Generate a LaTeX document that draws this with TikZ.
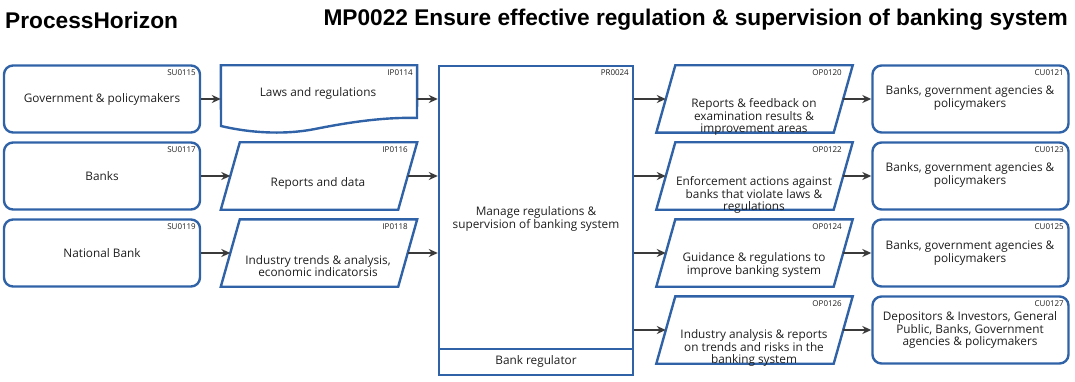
\documentclass[tikz,border=0pt]{standalone}
\usepackage{fontspec}
\usetikzlibrary{arrows.meta,calc}
\newfontfamily\bodyf{Open Sans}
\newfontfamily\titlef{Liberation Sans}
\definecolor{bcol}{HTML}{2F62A6}
\definecolor{acol}{HTML}{3A3A3A}
\definecolor{tcol}{HTML}{1E1E1E}
\newcommand\plgram[1]{%
  \draw[bline] (#1.south west) -- ($(#1.north west)+(19,0)$) -- (#1.north east) -- ($(#1.south east)+(-19,0)$) -- cycle;
  \coordinate (#1-l) at ($(#1.west)+(9.5,0)$);
  \coordinate (#1-r) at ($(#1.east)+(-9.5,0)$);}
\begin{document}
\begin{tikzpicture}[x=1pt,y=-1pt,
  frame/.style={rectangle, minimum width=196pt, minimum height=67pt, inner sep=0pt},
  sbox/.style={frame, draw=bcol, line width=2.4pt, rounded corners=9pt},
  bline/.style={draw=bcol, line width=2.4pt, line join=miter},
  arr/.style={draw=acol, line width=1.7pt, -{Stealth[length=9pt,width=8pt]}},
  txt/.style={font=\bodyf\fontsize{11.8}{12.6}\selectfont, align=center, text=tcol, inner sep=0pt},
  idl/.style={font=\bodyf\fontsize{8}{9}\selectfont, text=tcol, inner sep=0pt, anchor=east},
  ttl/.style={font=\titlef\bfseries\fontsize{22.7}{26}\selectfont, text=black, inner sep=0pt}
]
\useasboundingbox (0,0) rectangle (1075,382);

% titles
\node[ttl, anchor=west] (ph) at (5,20) {ProcessHorizon};
\node[ttl, anchor=east] (mp) at (1068,20) {MP0022 Ensure effective regulation \& supervision of banking system};

% suppliers
\node[sbox] (su115) at (102,99) {};
\node[sbox] (su117) at (102,176) {};
\node[sbox] (su119) at (102,253) {};

% inputs
\node[frame] (ip114) at (319,99) {};
\draw[bline] (ip114.north west) -- (ip114.north east) -- (417,118)
  .. controls (385,117) and (350,122) .. (315,129)
  .. controls (285,135) and (250,133) .. (221,126) -- cycle;
\node[frame] (ip116) at (319,176) {};
\plgram{ip116}
\node[frame] (ip118) at (319,253) {};
\plgram{ip118}

% process
\node[rectangle, draw=bcol, line width=2.4pt, minimum width=194pt, minimum height=309pt, inner sep=0pt] (pr) at (536,220.5) {};
\draw[bline] ($(pr.south west)+(0,-27)$) -- ($(pr.south east)+(0,-27)$);

% outputs
\node[frame] (op120) at (754.5,99) {};
\plgram{op120}
\node[frame] (op122) at (754.5,176) {};
\plgram{op122}
\node[frame] (op124) at (754.5,253) {};
\plgram{op124}
\node[frame] (op126) at (754.5,330) {};
\plgram{op126}

% customers
\node[sbox] (cu121) at (970.5,99) {};
\node[sbox] (cu123) at (970.5,176) {};
\node[sbox] (cu125) at (970.5,253) {};
\node[sbox] (cu127) at (970.5,330) {};

% ids
\node[idl] (i1) at (196,73) {SU0115};
\node[idl] (i2) at (196,150) {SU0117};
\node[idl] (i3) at (196,227) {SU0119};
\node[idl] (i4) at (413,73) {IP0114};
\node[idl] (i5) at (408,150) {IP0116};
\node[idl] (i6) at (408,227) {IP0118};
\node[idl] (i7) at (629,73) {PR0024};
\node[idl] (i8) at (842,73) {OP0120};
\node[idl] (i9) at (842,150) {OP0122};
\node[idl] (i10) at (842,227) {OP0124};
\node[idl] (i11) at (842,304) {OP0126};
\node[idl] (i12) at (1064,73) {CU0121};
\node[idl] (i13) at (1064,150) {CU0123};
\node[idl] (i14) at (1064,227) {CU0125};
\node[idl] (i15) at (1064,304) {CU0127};

% texts
\node[txt] (t1) at (102,99) {Government \& policymakers};
\node[txt] (t2) at (102,176) {Banks};
\node[txt] (t3) at (102,253) {National Bank};
\node[txt] (t4) at (318,93) {Laws and regulations};
\node[txt] (t5) at (318,183) {Reports and data};
\node[txt] (t6) at (318,266) {Industry trends \& analysis,\\economic indicatorsis};
\node[txt] (t7) at (536,219) {Manage regulations \&\\supervision of banking system};
\node[txt] (t8) at (536,361) {Bank regulator};
\node[txt] (t9) at (754,117) {Reports \& feedback on\\examination results \&\\improvement areas};
\node[txt] (t10) at (754,195) {Enforcement actions against\\banks that violate laws \&\\regulations};
\node[txt] (t11) at (754,265) {Guidance \& regulations to\\improve banking system};
\node[txt] (t12) at (754,348) {Industry analysis \& reports\\on trends and risks in the\\banking system};
\node[txt] (t13) at (970,98) {Banks, government agencies \&\\policymakers};
\node[txt] (t14) at (970,175) {Banks, government agencies \&\\policymakers};
\node[txt] (t15) at (970,253) {Banks, government agencies \&\\policymakers};
\node[txt] (t16) at (970,330) {Depositors \& Investors, General\\Public, Banks, Government\\agencies \& policymakers};

% connectors
\draw[arr] (su115.east) -- (ip114.west);
\draw[arr] (su117.east) -- (ip116-l);
\draw[arr] (su119.east) -- (ip118-l);
\draw[arr] (ip114.east) -- (ip114.east -| pr.west);
\draw[arr] (ip116-r) -- (ip116-r -| pr.west);
\draw[arr] (ip118-r) -- (ip118-r -| pr.west);
\draw[arr] (op120-l -| pr.east) -- (op120-l);
\draw[arr] (op122-l -| pr.east) -- (op122-l);
\draw[arr] (op124-l -| pr.east) -- (op124-l);
\draw[arr] (op126-l -| pr.east) -- (op126-l);
\draw[arr] (op120-r) -- (cu121.west);
\draw[arr] (op122-r) -- (cu123.west);
\draw[arr] (op124-r) -- (cu125.west);
\draw[arr] (op126-r) -- (cu127.west);
\end{tikzpicture}
\end{document}
